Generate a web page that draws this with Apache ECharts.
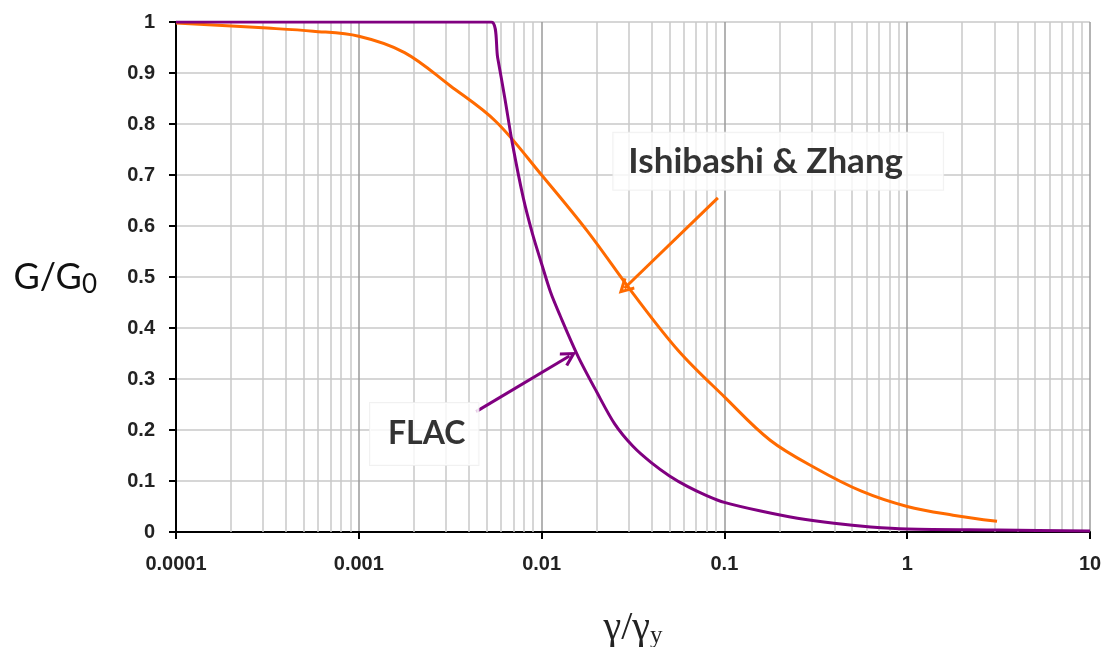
<!DOCTYPE html>
<html>
<head>
<meta charset="utf-8">
<script src="https://cdn.jsdelivr.net/npm/echarts@6/dist/echarts.min.js"></script>
<style>
html,body{margin:0;padding:0;background:#fff;}
#chart{width:1106px;height:647px;}
</style>
</head>
<body>
<div id="chart"></div>
<script>
// ---- data ----
const xTickLabels = ['0.0001', '0.001', '0.01', '0.1', '1', '10'];
const yTickLabels = ['0', '0.1', '0.2', '0.3', '0.4', '0.5', '0.6', '0.7', '0.8', '0.9', '1'];

// Ishibashi & Zhang curve (strain ratio, G/G0)
const izStrain = [0.0001, 0.000316, 0.000562, 0.001, 0.00178, 0.00316, 0.00562, 0.01, 0.0178, 0.0316, 0.0562, 0.1, 0.178, 0.316, 0.562, 1, 1.78, 3.1];
const izRatio  = [0.998, 0.988, 0.982, 0.972, 0.94, 0.875, 0.805, 0.70, 0.59, 0.468, 0.355, 0.265, 0.18, 0.125, 0.08, 0.05, 0.033, 0.021];

// FLAC curve (strain ratio, G/G0)
const flacStrain = [0.0001, 0.0053, 0.00575, 0.00631, 0.00692, 0.00794, 0.00891, 0.01, 0.0112, 0.0126, 0.0158, 0.02, 0.0251, 0.0316, 0.0398, 0.0501, 0.0631, 0.0794, 0.1, 0.158, 0.251, 0.398, 0.631, 1, 3.16, 10];
const flacRatio  = [1, 1, 0.93, 0.848, 0.762, 0.655, 0.585, 0.526, 0.47, 0.425, 0.345, 0.275, 0.212, 0.168, 0.136, 0.11, 0.089, 0.072, 0.058, 0.041, 0.027, 0.017, 0.01, 0.006, 0.004, 0.002];

const izLabel = 'Ishibashi & Zhang';
const flacLabel = 'FLAC';
const izLabelAt = [0.197, 0.727];
const flacLabelAt = [0.00228, 0.192];
const izArrow = [[0.0921, 0.655], [0.0284, 0.478]];
const flacArrow = [[0.00438, 0.236], [0.0142, 0.345]];

// minor gridline positions of the log axis (2..9 within each decade)
const minorGrid = [];
for (let d = -4; d < 1; d++) {
  for (let k = 2; k <= 9; k++) minorGrid.push(+(k * Math.pow(10, d)).toPrecision(3));
}

const ORANGE = '#ff6a00';
const PURPLE = '#800080';
const CHEVRON = 'path://M5,0 L10,8.6 L8.4,9.6 L5,3.8 L1.6,9.6 L0,8.6 Z';

const chart = echarts.init(document.getElementById('chart'), null, {renderer: 'canvas'});
const zip = (a, b) => a.map((v, i) => [v, b[i]]);

const option = {
  backgroundColor: '#fff',
  animation: false,
  grid: {left: 176, right: 16, top: 22, bottom: 115, containLabel: false, outerBoundsMode: 'none'},
  xAxis: {
    type: 'log', logBase: 10, min: 0.0001, max: 10, splitNumber: 5,
    axisLine: {show: true, onZero: false, lineStyle: {color: '#000', width: 2}},
    axisTick: {show: true, length: 7, inside: false, lineStyle: {color: '#000', width: 2}},
    axisLabel: {
      margin: 22, color: '#222', fontFamily: 'Liberation Sans', fontWeight: 'bold', fontSize: 20,
      formatter: (v, i) => xTickLabels[i]
    },
    splitLine: {show: true, lineStyle: {color: '#9a9a9a', width: 1.5}},
    name: '{a|γ/γ}{b|y}',
    nameLocation: 'middle', nameGap: 76,
    nameTextStyle: {
      rich: {
        a: {fontFamily: 'Liberation Serif', fontSize: 40, color: '#222'},
        b: {fontFamily: 'Liberation Serif', fontSize: 25, color: '#222', padding: [16, 0, 0, 0]}
      }
    }
  },
  yAxis: {
    type: 'value', min: 0, max: 1, interval: 0.1,
    axisLine: {show: true, lineStyle: {color: '#000', width: 2}},
    axisTick: {show: true, length: 7, inside: false, lineStyle: {color: '#000', width: 2}},
    axisLabel: {
      margin: 21, color: '#222', fontFamily: 'Liberation Sans', fontWeight: 'bold', fontSize: 20,
      formatter: (v) => yTickLabels[Math.round(v * 10)]
    },
    splitLine: {show: true, lineStyle: {color: '#c8c8c8', width: 1.5}},
    name: '{a|G/G}{b|0}',
    nameLocation: 'middle', nameRotate: 0, nameGap: 79,
    nameTextStyle: {
      align: 'right',
      rich: {
        a: {fontFamily: 'Lato', fontSize: 36, color: '#111'},
        b: {fontFamily: 'Lato', fontSize: 26, color: '#111', padding: [16, 0, 0, 0]}
      }
    }
  },
  series: [
    {
      type: 'lines', coordinateSystem: 'cartesian2d', z: 1, silent: true,
      symbol: ['none', 'none'],
      lineStyle: {color: '#c8c8c8', width: 1.5, opacity: 1},
      data: minorGrid.map(v => ({coords: [[v, 0], [v, 1]]}))
    },
    {
      name: izLabel, type: 'line', z: 5, data: zip(izStrain, izRatio),
      symbol: 'none', smooth: 0.35,
      lineStyle: {color: ORANGE, width: 3}
    },
    {
      name: flacLabel, type: 'line', z: 6, data: zip(flacStrain, flacRatio),
      symbol: 'none', smooth: 0.3,
      lineStyle: {color: PURPLE, width: 3}
    },
    {
      type: 'lines', coordinateSystem: 'cartesian2d', z: 7, silent: true,
      symbol: ['none', CHEVRON], symbolSize: 16,
      data: [
        {coords: izArrow, lineStyle: {color: ORANGE, width: 3, opacity: 1}},
        {coords: flacArrow, lineStyle: {color: PURPLE, width: 3, opacity: 1}}
      ]
    },
    {
      type: 'scatter', z: 8, silent: true, symbolSize: 0,
      data: [
        {value: izLabelAt, label: {formatter: izLabel, fontSize: 35, lineHeight: 37, padding: [10, 40, 10, 15]}},
        {value: flacLabelAt, label: {formatter: flacLabel, fontSize: 32, lineHeight: 38, padding: [12, 13, 12, 18]}}
      ],
      label: {
        show: true, position: 'inside', color: '#000', fontFamily: 'Lato', fontWeight: 'bold',
        backgroundColor: '#fff', borderColor: '#eeeeee', borderWidth: 1
      }
    }
  ]
};
chart.setOption(option);
</script>
</body>
</html>
